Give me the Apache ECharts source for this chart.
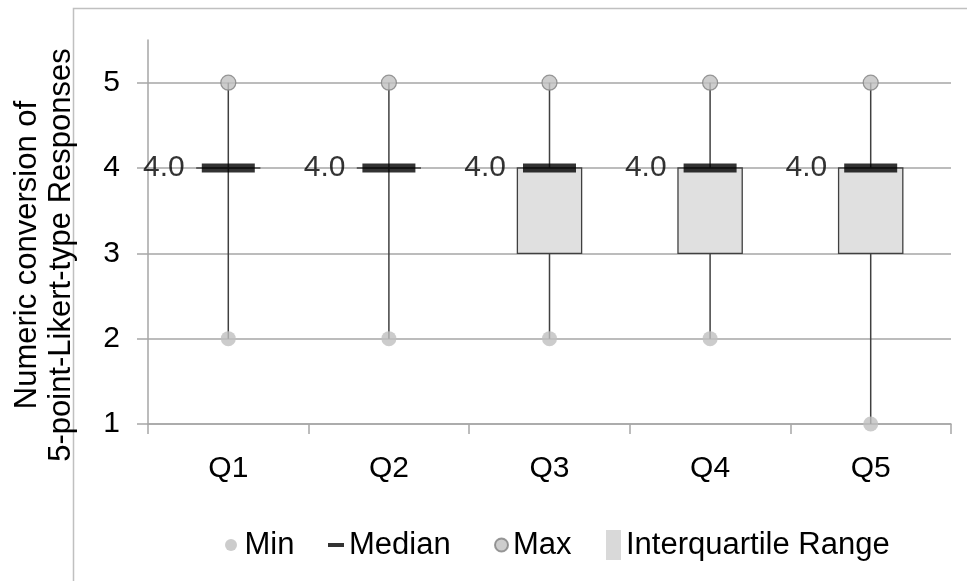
<!DOCTYPE html>
<html>
<head>
<meta charset="utf-8">
<script src="https://cdn.jsdelivr.net/npm/echarts@6/dist/echarts.min.js"></script>
<style>html,body{margin:0;padding:0;background:#fff}#c{width:967px;height:581px}</style>
</head>
<body>
<div id="c"></div>
<script>
const categories = ['Q1', 'Q2', 'Q3', 'Q4', 'Q5'];
const minValues = [2, 2, 2, 2, 1];
const q1Values = [4, 4, 3, 3, 3];
const medianValues = [4, 4, 4, 4, 4];
const q3Values = [4, 4, 4, 4, 4];
const maxValues = [5, 5, 5, 5, 5];
const yTicks = [1, 2, 3, 4, 5];
const yTitle = 'Numeric conversion of\n5-point-Likert-type Responses';

const FONT = "'Liberation Sans', Arial, sans-serif";
const GRID = '#a6a6a6';

const chart = echarts.init(document.getElementById('c'));
const boxData = categories.map((c, i) => [i, minValues[i], q1Values[i], q3Values[i], maxValues[i]]);

chart.setOption({
  animation: false,
  backgroundColor: '#fff',
  textStyle: { fontFamily: FONT },
  grid: { left: 148, right: 16, top: 40, bottom: 157 },
  graphic: [
    { type: 'polyline', silent: true, z: -1,
      shape: { points: [[73.5, 581], [73.5, 8.5], [967, 8.5]] },
      style: { stroke: '#c0c0c0', lineWidth: 1.5, fill: null } },
    { type: 'text', x: 44, y: 255, rotation: Math.PI / 2,
      style: { text: yTitle, font: "31px 'Liberation Sans', Arial, sans-serif", fill: '#000',
               align: 'center', verticalAlign: 'middle', lineHeight: 34 } }
  ],
  legend: [
    { data: [{ name: 'Min', icon: 'circle' }], left: 225, top: 528, padding: 0,
      itemWidth: 17, itemHeight: 12, textStyle: { fontSize: 31, color: '#000', fontFamily: FONT, lineHeight: 34 } },
    { data: [{ name: 'Median', icon: 'rect' }], left: 328, top: 528, padding: 0,
      itemWidth: 16, itemHeight: 4, textStyle: { fontSize: 31, color: '#000', fontFamily: FONT, lineHeight: 34 } },
    { data: [{ name: 'Max', icon: 'circle' }], left: 494, top: 528, padding: 0,
      itemWidth: 13, itemHeight: 13, textStyle: { fontSize: 31, color: '#000', fontFamily: FONT, lineHeight: 34 } },
    { data: [{ name: 'Interquartile Range', icon: 'rect', itemStyle: { borderWidth: 0 } }], left: 606, top: 528, padding: 0,
      itemWidth: 15, itemHeight: 30, textStyle: { fontSize: 31, color: '#000', fontFamily: FONT, lineHeight: 34 } }
  ],
  xAxis: {
    type: 'category',
    data: categories,
    boundaryGap: true,
    axisLine: { lineStyle: { color: GRID, width: 1.5 } },
    axisTick: { show: true, inside: false, length: 10, interval: 0, lineStyle: { color: GRID, width: 1.5 } },
    axisLabel: { fontSize: 30, color: '#000', margin: 30, fontFamily: FONT }
  },
  yAxis: {
    type: 'value',
    min: 1, max: 5.5, interval: 1,
    axisLine: { show: true, lineStyle: { color: GRID, width: 1.5 } },
    axisTick: { show: true, inside: false, length: 11, customValues: yTicks, lineStyle: { color: GRID, width: 1.5 } },
    axisLabel: { fontSize: 30, color: '#000', margin: 28, fontFamily: FONT, customValues: yTicks,
                 formatter: v => (v % 1 === 0 ? String(v) : '') },
    splitLine: { show: true, lineStyle: { color: GRID, width: 1.5 } }
  },
  series: [
    {
      name: 'Interquartile Range',
      type: 'custom',
      itemStyle: { color: '#d9d9d9' },
      encode: { x: 0, y: [1, 2, 3, 4] },
      data: boxData,
      z: 2,
      renderItem: function (params, api) {
        const idx = api.value(0);
        const pMin = api.coord([idx, api.value(1)]);
        const pQ1 = api.coord([idx, api.value(2)]);
        const pQ3 = api.coord([idx, api.value(3)]);
        const pMax = api.coord([idx, api.value(4)]);
        const bw = api.size([1, 0])[0] * 0.4;
        const x = pMin[0];
        return {
          type: 'group',
          children: [
            { type: 'line', shape: { x1: x, y1: pMax[1], x2: x, y2: pMin[1] },
              style: { stroke: '#404040', lineWidth: 1.5 } },
            { type: 'rect', shape: { x: x - bw / 2, y: pQ3[1], width: bw, height: pQ1[1] - pQ3[1] },
              style: { fill: '#e0e0e0', stroke: '#404040', lineWidth: 1.3 } }
          ]
        };
      }
    },
    {
      name: 'Median',
      type: 'scatter',
      data: medianValues,
      symbol: 'rect',
      symbolSize: [53, 9],
      itemStyle: { color: '#000' },
      z: 3,
      label: { show: true, position: 'left', distance: 17, fontSize: 30, color: '#000', fontFamily: FONT,
               formatter: p => p.value.toFixed(1) }
    },
    {
      name: 'Min',
      type: 'scatter',
      data: minValues,
      symbol: 'circle',
      symbolSize: 15,
      itemStyle: { color: '#bfbfbf' },
      z: 4
    },
    {
      name: 'Max',
      type: 'scatter',
      data: maxValues,
      symbol: 'circle',
      symbolSize: 15,
      itemStyle: { color: '#c0c0c0', borderColor: '#7f7f7f', borderWidth: 1.2 },
      z: 4
    }
  ]
});
</script>
</body>
</html>
